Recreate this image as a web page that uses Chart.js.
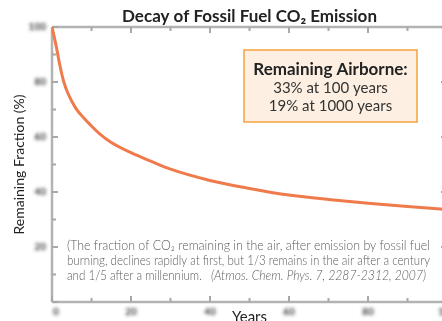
<!DOCTYPE html>
<html>
<head>
<meta charset="utf-8">
<title>Decay of Fossil Fuel CO₂ Emission</title>
<script src="https://cdn.jsdelivr.net/npm/chart.js@4.4.1/dist/chart.umd.min.js"></script>
<style>
  html, body { margin: 0; padding: 0; overflow: hidden; background: #fff; }
  #wrap { position: relative; width: 462px; height: 330px; }
</style>
</head>
<body>
<div id="wrap"><canvas id="decayChart"></canvas></div>
<script>
// years after emission and the percentage of CO2 still airborne
const years = [0, 1, 2, 3, 4, 6, 8, 10, 12, 15, 20, 25, 30, 40, 50, 60, 70, 80, 90, 100];
const remaining = [100, 93.5, 86, 80, 76, 70.5, 67, 64, 61.2, 58, 54.3, 51.2, 48.3, 44.2, 41.3, 38.9, 37.3, 35.9, 34.7, 33.6];

const xTickValues = [0, 20, 40, 60, 80, 100];
const yTickValues = [20, 40, 60, 80, 100];
const minorStep = 10;

const boxTitle = 'Remaining Airborne:';
const boxLines = ['33% at 100 years', '19% at 1000 years'];
const noteLines = [
    '(The fraction of CO₂ remaining in the air, after emission by fossil fuel',
    'burning, declines rapidly at first, but 1/3 remains in the air after a century',
    'and 1/5 after a millennium. '
];
const noteCite = '(Atmos. Chem. Phys. 7, 2287-2312, 2007)';

const FONT = 'Lato, "Open Sans", sans-serif';
const AXIS_GREY = '#b3b3b3';
const CURVE = '#ef7b4c';

// soft text: only the blurred shadow lands on the canvas
function softText(ctx, text, x, y) {
    const shift = 1000;
    ctx.shadowColor = 'rgba(40,40,40,0.95)';
    ctx.shadowBlur = 3.5;
    ctx.shadowOffsetX = shift;
    ctx.fillText(text, x - shift, y);
}

//---------------------------------------------------------------------------
// box frame with inward ticks, and soft tick labels
const frameTicks = {
    id: 'frameTicks',
    beforeDatasetsDraw(chart) {
        const { ctx, chartArea: a, scales: { x, y } } = chart;
        ctx.save();
        ctx.strokeStyle = AXIS_GREY;
        ctx.lineWidth = 2.5;
        ctx.beginPath();
        ctx.moveTo(a.left, a.top); ctx.lineTo(a.right, a.top);
        ctx.moveTo(a.left, a.bottom); ctx.lineTo(a.right, a.bottom);
        ctx.moveTo(a.left, a.top); ctx.lineTo(a.left, a.bottom);
        ctx.moveTo(a.right, a.top); ctx.lineTo(a.right, a.bottom);
        ctx.stroke();

        ctx.lineWidth = 2;
        ctx.strokeStyle = '#a8a8a8';
        ctx.beginPath();
        for (let v = x.min; v <= x.max; v += minorStep) {
            const px = x.getPixelForValue(v);
            const len = v % 20 === 0 ? 6 : 4;
            ctx.moveTo(px, a.bottom); ctx.lineTo(px, a.bottom - len);
            ctx.moveTo(px, a.top); ctx.lineTo(px, a.top + len);
        }
        for (let v = y.min; v <= y.max; v += minorStep) {
            const py = y.getPixelForValue(v);
            const len = v % 20 === 0 ? 6 : 4;
            ctx.moveTo(a.left, py); ctx.lineTo(a.left + len, py);
            ctx.moveTo(a.right, py); ctx.lineTo(a.right - len, py);
        }
        ctx.stroke();

        // tick labels, blurred like the printed figure
        ctx.fillStyle = '#3a3a3a';
        ctx.font = 'bold 10px ' + FONT;
        ctx.textBaseline = 'middle';
        ctx.textAlign = 'right';
        yTickValues.forEach(v => softText(ctx, String(v), a.left - 6, y.getPixelForValue(v)));
        ctx.textAlign = 'center';
        xTickValues.forEach(v => softText(ctx, String(v), x.getPixelForValue(v) + (v === 0 ? 4 : 0), a.bottom + 10));
        ctx.restore();
    },
    afterDraw(chart) {
        const { ctx, chartArea: a } = chart;
        ctx.save();
        // summary box
        const bx = a.left + 192, by = a.top + 23, bw = 173, bh = 72;
        ctx.fillStyle = '#fdf0e2';
        ctx.fillRect(bx, by, bw, bh);
        ctx.strokeStyle = '#f4a23c';
        ctx.lineWidth = 1.5;
        ctx.strokeRect(bx, by, bw, bh);
        const cx = bx + bw / 2;
        ctx.textAlign = 'center';
        ctx.textBaseline = 'alphabetic';
        ctx.fillStyle = '#222';
        ctx.font = 'bold 17px ' + FONT;
        ctx.fillText(boxTitle, cx, by + 25);
        ctx.fillStyle = '#333';
        ctx.font = '15px ' + FONT;
        boxLines.forEach((s, i) => ctx.fillText(s, cx, by + 43 + i * 18));

        // explanatory note
        const nx = a.left + 15;
        ctx.textAlign = 'left';
        ctx.fillStyle = '#5c5c5c';
        ctx.font = '300 13px ' + FONT;
        ctx.fillText(noteLines[0], nx, 250, 363);
        ctx.fillText(noteLines[1], nx, 265, 363);
        ctx.fillText(noteLines[2], nx, 279.5, 138);
        ctx.font = 'italic 300 13px ' + FONT;
        ctx.fillText(noteCite, nx + 144, 279.5, 215);
        ctx.restore();
    }
};
//---------------------------------------------------------------------------
const ctx = document.getElementById('decayChart');
new Chart(ctx, {
    type: 'line',
    data: {
        datasets: [{
            label: 'Remaining fraction',
            data: years.map((t, i) => ({ x: t, y: remaining[i] })),
            borderColor: CURVE,
            borderWidth: 3,
            pointRadius: 0,
            fill: false,
            cubicInterpolationMode: 'monotone'
        }]
    },
    options: {
        responsive: true,
        maintainAspectRatio: false,
        animation: false,
        layout: { padding: { left: 0, right: 15, top: 0, bottom: 0 } },
        plugins: {
            legend: { display: false },
            tooltip: { enabled: false },
            title: {
                display: true,
                fullSize: false,
                text: 'Decay of Fossil Fuel CO₂ Emission',
                color: '#222',
                font: { family: FONT, size: 17, weight: 'bold' },
                padding: { top: 6, bottom: 0.6 }
            }
        },
        scales: {
            x: {
                type: 'linear',
                min: 0,
                max: 100,
                grid: { display: false },
                border: { display: false },
                ticks: { display: false },
                title: {
                    display: true,
                    text: 'Years',
                    color: '#222',
                    font: { family: FONT, size: 15 },
                    padding: { top: 0, bottom: 4 }
                },
                afterFit(scale) { scale.height = 28; }
            },
            y: {
                min: 0,
                max: 100,
                grid: { display: false },
                border: { display: false },
                ticks: { display: false },
                title: {
                    display: true,
                    text: 'Remaining Fraction (%)',
                    color: '#222',
                    font: { family: FONT, size: 14 },
                    padding: { top: 11, bottom: 0 }
                },
                afterFit(scale) { scale.width = 52; }
            }
        }
    },
    plugins: [frameTicks]
});
</script>
</body>
</html>
